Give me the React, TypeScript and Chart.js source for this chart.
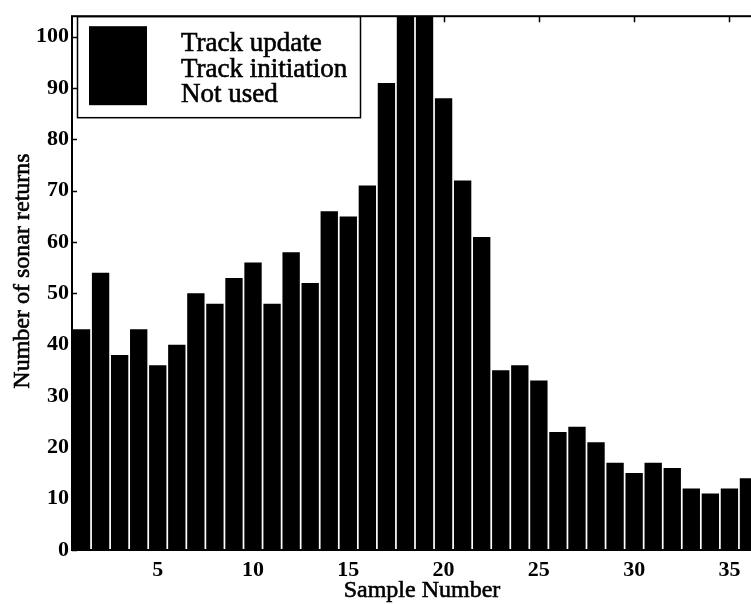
import React, { useEffect, useRef } from "react";
import { Chart, registerables } from "chart.js";

Chart.register(...registerables);

// Sonar returns per sample
const SAMPLES = [
  1, 2, 3, 4, 5, 6, 7, 8, 9, 10, 11, 12, 13, 14, 15, 16, 17, 18,
  19, 20, 21, 22, 23, 24, 25, 26, 27, 28, 29, 30, 31, 32, 33, 34, 35, 36,
];
const RETURNS = [
  43, 54, 38, 43, 36, 40, 50, 48, 53, 56, 48, 58, 52, 66, 65, 71, 91, 110,
  107, 88, 72, 61, 35, 36, 33, 23, 24, 21, 17, 15, 17, 16, 12, 11, 12, 14,
];
const X_TICKS = [5, 10, 15, 20, 25, 30, 35];
const Y_TICKS = [0, 10, 20, 30, 40, 50, 60, 70, 80, 90, 100];
const LEGEND_LABELS = ["Track update", "Track initiation", "Not used"];
const X_TITLE = "Sample Number";
const Y_TITLE = "Number of sonar returns";

const SERIF = '"Liberation Serif", "Times New Roman", serif';
const INK = "#000000";

// Slightly heavier serif text: fill plus a hairline outline
function inkText(ctx: CanvasRenderingContext2D, text: string, x: number, y: number) {
  ctx.fillText(text, x, y);
  ctx.strokeText(text, x, y);
}

export default function App() {
  const canvasRef = useRef<HTMLCanvasElement>(null);

  useEffect(() => {
    const canvas = canvasRef.current;
    if (!canvas) return;

    // Axes box with inward tick marks, the boxed legend and the axis titles
    const decorations = {
      id: "decorations",
      afterDraw(chart: any) {
        const { ctx, chartArea } = chart;
        const { left, right, top, bottom } = chartArea;
        const xs = chart.scales.x;
        const ys = chart.scales.y;
        ctx.save();

        ctx.strokeStyle = INK;
        ctx.lineWidth = 2;
        ctx.strokeRect(left, top, right - left, bottom - top);

        ctx.lineWidth = 1.5;
        ctx.beginPath();
        for (const v of Y_TICKS) {
          const py = Math.round(ys.getPixelForValue(v)) + 0.5;
          ctx.moveTo(left, py);
          ctx.lineTo(left + 5, py);
          ctx.moveTo(right, py);
          ctx.lineTo(right - 5, py);
        }
        for (const v of X_TICKS) {
          const px = Math.round(xs.getPixelForValue(v)) + 0.5;
          ctx.moveTo(px, top);
          ctx.lineTo(px, top + 6);
          ctx.moveTo(px, bottom);
          ctx.lineTo(px, bottom - 6);
        }
        ctx.stroke();

        // Legend box
        const lx = left + 5;
        const ly = top;
        const lw = 283;
        const lh = 101;
        ctx.fillStyle = "#ffffff";
        ctx.fillRect(lx, ly, lw, lh);
        ctx.lineWidth = 1.5;
        ctx.strokeRect(lx + 0.5, ly + 0.5, lw, lh);
        ctx.fillStyle = INK;
        ctx.fillRect(lx + 12, ly + 10, 58, 79);
        ctx.font = `27px ${SERIF}`;
        ctx.textAlign = "left";
        ctx.textBaseline = "alphabetic";
        ctx.lineWidth = 0.6;
        LEGEND_LABELS.forEach((label, i) => {
          inkText(ctx, label, lx + 104, ly + 35 + i * 25.5);
        });

        // Axis titles
        ctx.font = `24px ${SERIF}`;
        ctx.textAlign = "center";
        inkText(ctx, X_TITLE, 422, 597);
        ctx.translate(29, 271);
        ctx.rotate(-Math.PI / 2);
        inkText(ctx, Y_TITLE, 0, 0);

        ctx.restore();
      },
    };

    const chart = new Chart(canvas, {
      type: "bar",
      data: {
        datasets: [
          {
            label: LEGEND_LABELS[0],
            data: SAMPLES.map((s, i) => ({ x: s, y: RETURNS[i] })),
            backgroundColor: INK,
            borderWidth: 0,
            barPercentage: 0.91,
            categoryPercentage: 1,
          },
        ],
      },
      options: {
        responsive: false,
        animation: false,
        layout: { padding: { top: 10, right: 2, left: 0, bottom: 0 } },
        plugins: {
          legend: { display: false },
          tooltip: { enabled: false },
          title: { display: false },
        },
        scales: {
          x: {
            type: "linear",
            offset: false,
            min: 0.5,
            max: 36.5,
            grid: { display: false, drawTicks: false },
            border: { display: false },
            ticks: {
              color: INK,
              padding: 7,
              font: { family: SERIF, size: 22, weight: "bold" },
            },
            afterBuildTicks: (scale: any) => {
              scale.ticks = X_TICKS.map((v) => ({ value: v }));
            },
            afterFit: (scale: any) => {
              scale.height = 54;
            },
          },
          y: {
            type: "linear",
            min: 0,
            max: 104,
            grid: { display: false, drawTicks: false },
            border: { display: false },
            ticks: {
              color: INK,
              padding: 3,
              font: { family: SERIF, size: 22, weight: "bold" },
            },
            afterBuildTicks: (scale: any) => {
              scale.ticks = Y_TICKS.map((v) => ({ value: v }));
            },
            afterFit: (scale: any) => {
              scale.width = 72;
            },
          },
        },
      },
      plugins: [decorations],
    });

    return () => chart.destroy();
  }, []);

  return (
    <div
      style={{
        position: "fixed",
        left: 0,
        top: 0,
        width: 760,
        height: 604,
        background: "#ffffff",
      }}
    >
      <canvas ref={canvasRef} width={760} height={604} style={{ display: "block" }} />
    </div>
  );
}
